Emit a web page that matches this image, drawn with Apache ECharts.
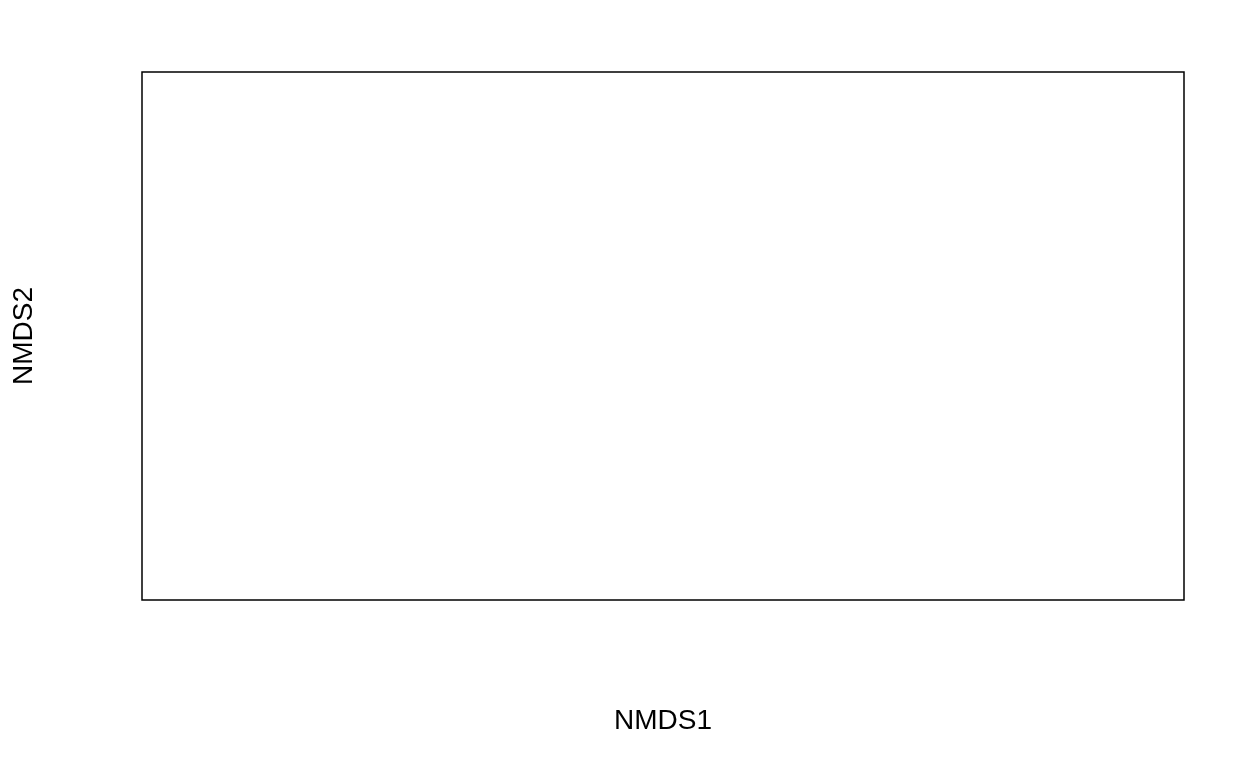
<!DOCTYPE html>
<html>
<head>
<meta charset="utf-8">
<script src="https://cdn.jsdelivr.net/npm/echarts@6/dist/echarts.min.js"></script>
<style>
html,body{margin:0;padding:0;background:#fff;}
#c{width:1256px;height:776px;}
</style>
</head>
<body>
<div id="c"></div>
<script>
// The reference plot is empty: no points are drawn.
const nmds1 = [];
const nmds2 = [];
const xTitle = 'NMDS1';
const yTitle = 'NMDS2';

const chart = echarts.init(document.getElementById('c'), null, {renderer: 'canvas'});
const pts = nmds1.map((v, i) => [v, nmds2[i]]);
chart.setOption({
  animation: false,
  backgroundColor: '#ffffff',
  grid: {
    left: 142, top: 72, width: 1042, height: 528,
    show: true, borderColor: '#000000', borderWidth: 1.5, backgroundColor: 'transparent'
  },
  xAxis: {
    type: 'value', min: 0, max: 1,
    name: xTitle, nameLocation: 'middle', nameGap: 107,
    nameTextStyle: {fontFamily: 'Liberation Sans, Arial, sans-serif', fontSize: 28, color: '#000'},
    axisLine: {show: false}, axisTick: {show: false}, axisLabel: {show: false}, splitLine: {show: false}
  },
  yAxis: {
    type: 'value', min: 0, max: 1,
    name: yTitle, nameLocation: 'middle', nameGap: 104,
    nameTextStyle: {fontFamily: 'Liberation Sans, Arial, sans-serif', fontSize: 28, color: '#000'},
    axisLine: {show: false}, axisTick: {show: false}, axisLabel: {show: false}, splitLine: {show: false}
  },
  series: [{type: 'scatter', data: pts}]
});
</script>
</body>
</html>
